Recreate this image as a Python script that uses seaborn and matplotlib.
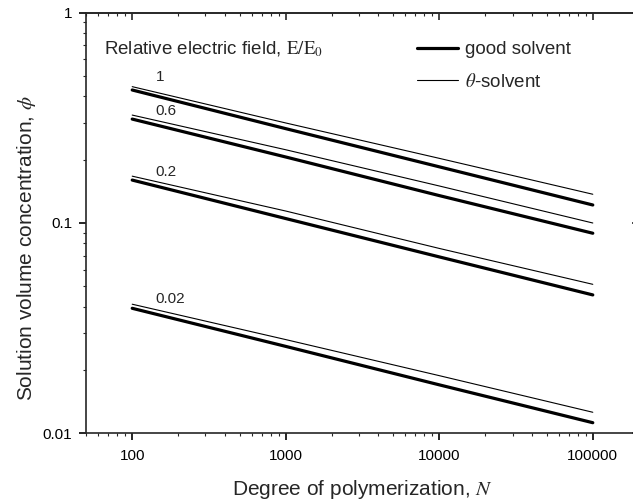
import numpy as np
import pandas as pd
import matplotlib
matplotlib.use("Agg")
import matplotlib.pyplot as plt
import seaborn as sns
from matplotlib.ticker import LogLocator, NullFormatter, FixedLocator, FixedFormatter
from matplotlib.lines import Line2D

sns.set_style("ticks")
plt.rcParams['font.family'] = ['Liberation Sans', 'DejaVu Sans']
plt.rcParams['mathtext.fontset'] = 'stix'

# ---- data ----
N = [100, 1000, 10000, 100000]
fields = ["1", "0.6", "0.2", "0.02"]
good_1 = [0.429, 0.281, 0.185, 0.1218]
good_06 = [0.312, 0.206, 0.135, 0.0894]
good_02 = [0.160, 0.105, 0.0690, 0.0455]
good_002 = [0.0393, 0.0259, 0.0170, 0.01123]
theta_1 = [0.445, 0.299, 0.203, 0.137]
theta_06 = [0.326, 0.223, 0.150, 0.100]
theta_02 = [0.167, 0.114, 0.0757, 0.0511]
theta_002 = [0.0411, 0.0279, 0.0188, 0.01259]
label_N = [142, 142, 142, 142]
label_phi = [0.494, 0.341, 0.175, 0.0435]
xticks = [100, 1000, 10000, 100000]
xticklabels = ["100", "1000", "10000", "100000"]
yticks = [0.01, 0.1, 1]
yticklabels = ["0.01", "0.1", "1"]

rows = []
for f, g, t in zip(fields, [good_1, good_06, good_02, good_002],
                   [theta_1, theta_06, theta_02, theta_002]):
    for n, v in zip(N, g):
        rows.append(dict(N=n, phi=v, field=f, solvent="good solvent"))
    for n, v in zip(N, t):
        rows.append(dict(N=n, phi=v, field=f, solvent="theta"))
df = pd.DataFrame(rows)

fig = plt.figure(figsize=(6.33, 5.04), dpi=100)
ax = fig.add_axes([86/633, (504-433.3)/504, 553/633, 420.6/504])

for (f, s), sub in df.groupby(["field", "solvent"], sort=False):
    lw = 2.3 if s == "good solvent" else 0.8
    sns.lineplot(data=sub, x="N", y="phi", ax=ax, color="black", lw=lw,
                 legend=False, estimator=None, sort=True)

ax.set_xscale("log")
ax.set_yscale("log")
ax.set_xlim(50, 200000)
ax.set_ylim(0.01, 1)

ax.xaxis.set_major_locator(FixedLocator(xticks))
ax.xaxis.set_major_formatter(FixedFormatter(xticklabels))
ax.yaxis.set_major_locator(FixedLocator(yticks))
ax.yaxis.set_major_formatter(FixedFormatter(yticklabels))
ax.xaxis.set_minor_locator(LogLocator(base=10, subs=np.arange(2, 10)))
ax.yaxis.set_minor_locator(LogLocator(base=10, subs=np.arange(2, 10)))
ax.xaxis.set_minor_formatter(NullFormatter())
ax.yaxis.set_minor_formatter(NullFormatter())

for sp in ax.spines.values():
    sp.set_linewidth(1.2)
    sp.set_visible(True)

ax.tick_params(which="major", direction="out", length=5, width=1.2,
               labelsize=11, colors="black", pad=5)
ax.tick_params(axis="x", which="major", pad=6.5)
ax.tick_params(which="minor", direction="out", length=2.5, width=0.8)

# top / right ticks pointing inward
secx = ax.secondary_xaxis("top")
secx.set_xscale("log")
secx.xaxis.set_major_locator(FixedLocator(xticks))
secx.xaxis.set_minor_locator(LogLocator(base=10, subs=np.arange(2, 10)))
secx.xaxis.set_major_formatter(NullFormatter())
secx.xaxis.set_minor_formatter(NullFormatter())
secx.tick_params(which="major", direction="in", length=5, width=1.2)
secx.tick_params(which="minor", direction="in", length=2.5, width=0.8)
secx.spines["top"].set_linewidth(1.2)

secy = ax.secondary_yaxis("right")
secy.set_yscale("log")
secy.yaxis.set_major_locator(FixedLocator(yticks))
secy.yaxis.set_minor_locator(LogLocator(base=10, subs=np.arange(2, 10)))
secy.yaxis.set_major_formatter(NullFormatter())
secy.yaxis.set_minor_formatter(NullFormatter())
secy.tick_params(which="major", direction="in", length=5, width=1.2)
secy.tick_params(which="minor", direction="in", length=2.5, width=0.8)

ax.set_xlabel(r"Degree of polymerization, $N$", fontsize=15, labelpad=10.5)
ax.set_ylabel(r"Solution volume concentration, $\phi$", fontsize=15)
ax.yaxis.set_label_coords(-0.087, 0.44)

for f, xn, yp in zip(fields, label_N, label_phi):
    ax.text(xn, yp, f, ha="left", va="center", fontsize=11)

ax.text(0.0325, 0.9137, r"Relative electric field, $\mathrm{E/E_0}$",
        transform=ax.transAxes, ha="left", va="center", fontsize=13.5)

handles = [Line2D([], [], color="black", lw=2.3),
           Line2D([], [], color="black", lw=0.8)]
ax.legend(handles, ["good solvent", r"$\theta$-solvent"], loc="upper left",
          bbox_to_anchor=(0.5986, 0.932), frameon=False, fontsize=13.5,
          handlelength=2.2, handletextpad=0.35, labelspacing=0.76,
          borderaxespad=0, borderpad=0)

fig.savefig("out.png", dpi=100)
